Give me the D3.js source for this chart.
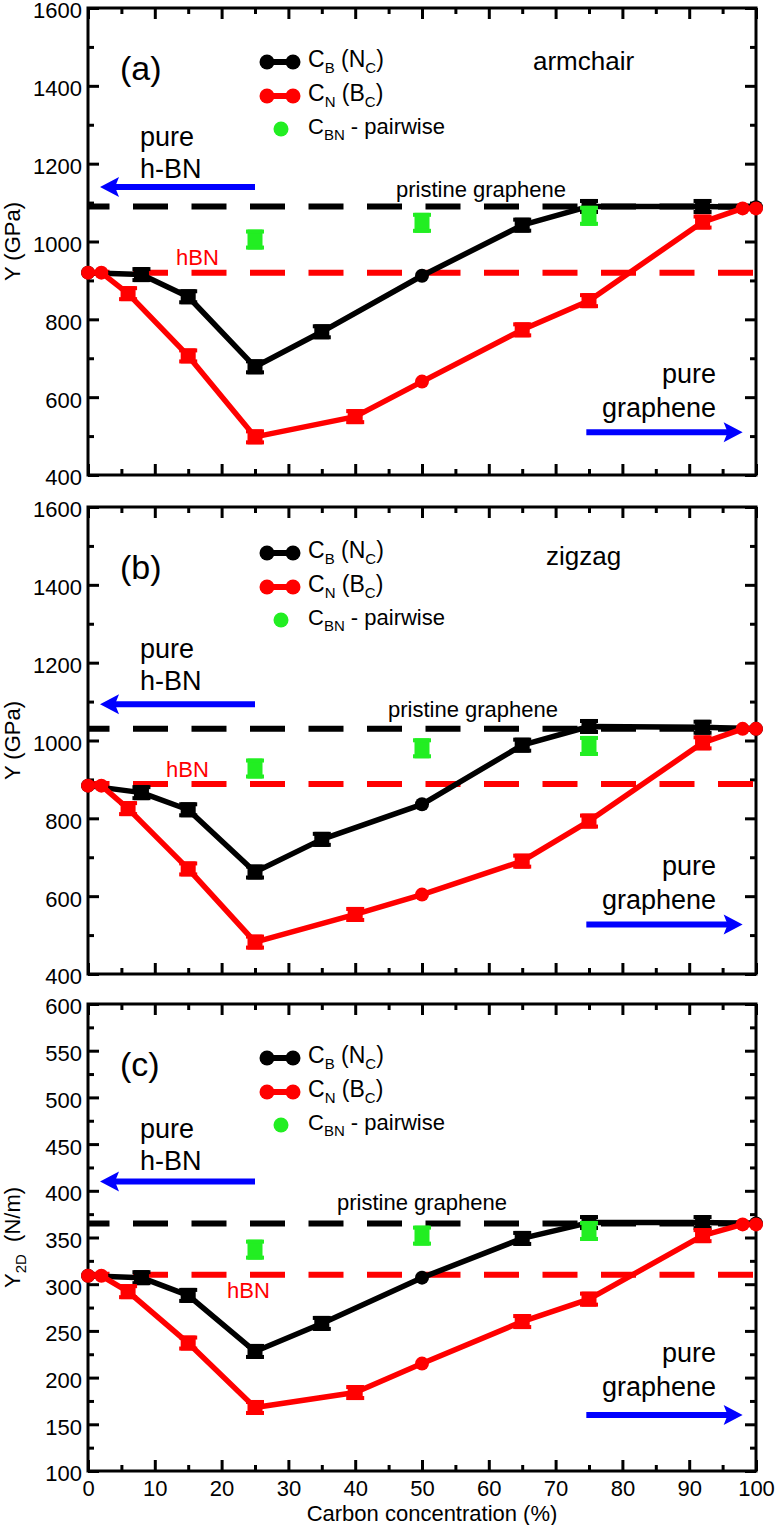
<!DOCTYPE html>
<html lang="en">
<head>
<meta charset="UTF-8">
<title>Young's modulus vs carbon concentration</title>
<script src="https://cdn.jsdelivr.net/npm/d3@7"></script>
<style>
  body { margin: 0; background: #fff; }
  svg { font-family: "Liberation Sans", Arial, Helvetica, sans-serif; }
  .tick line { stroke: #000; stroke-width: 3px; }
  .domain { display: none; }
  .tick text { font-size: 22px; fill: #000; }
</style>
</head>
<body>
<div id="chart"></div>
<script>
// concentration (%) of each computed point
const concB = [0, 8, 15, 25, 35, 50, 65, 75, 92, 100];
const concN = [0, 2, 6, 15, 25, 40, 50, 65, 75, 92, 98, 100];
const concPair = [25, 50, 75];
// marker shape per point: o = circle, s = square with error bar
const markB = ["o", "s", "s", "s", "s", "o", "s", "s", "s", "o"];
const markN = ["o", "o", "s", "s", "s", "s", "o", "s", "s", "s", "o", "o"];

// (a) armchair, Y in GPa
const armchairB = [920, 915, 858, 678, 768, 912, 1042, 1090, 1090, 1088];
const armchairN = [920, 920, 866, 706, 498, 550, 640, 773, 848, 1050, 1085, 1085];
const armchairPair = [1005, 1048, 1066];
// (b) zigzag, Y in GPa
const zigzagB = [884, 866, 822, 662, 746, 836, 988, 1036, 1034, 1030];
const zigzagN = [884, 884, 825, 670, 482, 553, 604, 690, 793, 994, 1030, 1030];
const zigzagPair = [928, 980, 986];
// (c) 2D modulus, N/m
const y2dB = [309, 307, 288, 228, 258, 307, 349, 366, 366, 365];
const y2dN = [309, 309, 292, 237, 168, 184, 215, 260, 284, 352, 364, 364];
const y2dPair = [337, 352, 357];

// reference levels (dashed lines)
const refGraphene = [1090, 1030, 365];
const refHBN = [920, 888, 310];

// axis ticks
const xMajor = d3.range(0, 101, 10);
const xMinor = d3.range(5, 100, 10);
const yMajorGPa = d3.range(400, 1601, 200);
const yMinorGPa = d3.range(500, 1600, 200);
const yMajor2D = d3.range(100, 601, 50);
const yMinor2D = d3.range(125, 600, 50);

const panels = [
  { tag: "(a)", name: "armchair", B: armchairB, N: armchairN, P: armchairPair,
    dom: [400, 1600], major: yMajorGPa, minor: yMinorGPa, top: 8,
    leftArrowY: 1140, rightArrowY: 510, legTop: 54, hbnTop: 138, grTop: 375,
    prist: { x: 566, dy: 189 }, hbn: { x: 176, dy: 257 }, nameX: 533, nameDy: 62 },
  { tag: "(b)", name: "zigzag", B: zigzagB, N: zigzagN, P: zigzagPair,
    dom: [400, 1600], major: yMajorGPa, minor: yMinorGPa, top: 507,
    leftArrowY: 1093, rightArrowY: 527, legTop: 46, hbnTop: 151, grTop: 368,
    prist: { x: 558, dy: 210 }, hbn: { x: 166, dy: 270 }, nameX: 546, nameDy: 58 },
  { tag: "(c)", name: "", B: y2dB, N: y2dN, P: y2dPair,
    dom: [100, 600], major: yMajor2D, minor: yMinor2D, top: 1004,
    leftArrowY: 410, rightArrowY: 160, legTop: 54, hbnTop: 134, grTop: 358,
    prist: { x: 507, dy: 206 }, hbn: { x: 227, dy: 294 }, nameX: 0, nameDy: 0 }
];

const W = 776, H = 1525, L = 88, R = 756, PH = 467;
const RED = "#ff0000", GREEN = "#22ee22", BLUE = "#0000ff";

const svg = d3.select("#chart").append("svg")
  .attr("width", W).attr("height", H);

const x = d3.scaleLinear().domain([0, 100]).range([L, R]);

// square marker with error-bar caps (hourglass look)
function sqMarker(g, cx, cy, color, hh) {
  g.append("rect").attr("x", cx - 7.5).attr("y", cy - hh).attr("width", 15).attr("height", 2 * hh).attr("fill", color);
  g.append("rect").attr("x", cx - 9).attr("y", cy - hh).attr("width", 18).attr("height", 4).attr("fill", color);
  g.append("rect").attr("x", cx - 9).attr("y", cy + hh - 4).attr("width", 18).attr("height", 4).attr("fill", color);
}

function arrow(g, x1, x2, yy) {
  const dir = Math.sign(x2 - x1);
  g.append("line").attr("x1", x1).attr("x2", x2 - dir * 14).attr("y1", yy).attr("y2", yy)
    .attr("stroke", BLUE).attr("stroke-width", 6);
  g.append("path")
    .attr("d", `M${x2},${yy} L${x2 - dir * 19},${yy - 10} L${x2 - dir * 15},${yy} L${x2 - dir * 19},${yy + 10} Z`)
    .attr("fill", BLUE);
}

panels.forEach((p, i) => {
  const top = p.top, bottom = top + PH;
  const y = d3.scaleLinear().domain(p.dom).range([bottom, top]);
  const g = svg.append("g");

  // ticks, all four sides, inward
  const ax = [
    [d3.axisBottom(x).tickValues(xMajor).tickSizeInner(-11), bottom, "h", i === 2],
    [d3.axisBottom(x).tickValues(xMinor).tickSizeInner(-6), bottom, "h", false],
    [d3.axisTop(x).tickValues(xMajor).tickSizeInner(-11), top, "h", false],
    [d3.axisTop(x).tickValues(xMinor).tickSizeInner(-6), top, "h", false],
    [d3.axisLeft(y).tickValues(p.major).tickSizeInner(-11), L, "v", true],
    [d3.axisLeft(y).tickValues(p.minor).tickSizeInner(-6), L, "v", false],
    [d3.axisRight(y).tickValues(p.major).tickSizeInner(-11), R, "v", false],
    [d3.axisRight(y).tickValues(p.minor).tickSizeInner(-6), R, "v", false]
  ];
  ax.forEach(([a, pos, o, lab]) => {
    a.tickSizeOuter(0).tickPadding(o === "h" ? 9 : 6)
      .tickFormat(lab ? d3.format("d") : "");
    const ag = g.append("g")
      .attr("transform", o === "h" ? `translate(0,${pos})` : `translate(${pos},0)`)
      .call(a);
    // labels sit a little below their tick on the y axes
    if (o === "v") ag.selectAll(".tick text").attr("dy", "0.45em");
  });

  g.append("rect").attr("x", L).attr("y", top).attr("width", R - L).attr("height", PH)
    .attr("fill", "none").attr("stroke", "#000").attr("stroke-width", 3);

  // y axis title
  const yt = g.append("text")
    .attr("transform", `translate(20,${(top + bottom) / 2}) rotate(-90)`)
    .attr("text-anchor", "middle").attr("font-size", 22);
  if (i < 2) {
    yt.text("Y (GPa)");
  } else {
    yt.append("tspan").text("Y");
    yt.append("tspan").attr("font-size", 15).attr("dy", 6).text("2D");
    yt.append("tspan").attr("dy", -6).text("\u00a0\u00a0(N/m)");
  }

  // panel tag and name
  g.append("text").attr("x", 120).attr("y", top + 72).attr("font-size", 34).text(p.tag);
  if (p.name) {
    g.append("text").attr("x", p.nameX).attr("y", top + p.nameDy).attr("font-size", 26).text(p.name);
  }

  // reference dashed lines
  [[refGraphene[i], "#000"], [refHBN[i], RED]].forEach(([v, c]) => {
    g.append("line").attr("x1", L).attr("x2", R).attr("y1", y(v)).attr("y2", y(v))
      .attr("stroke", c).attr("stroke-width", 6)
      .attr("stroke-dasharray", "35,23.5").attr("stroke-dashoffset", 13.5);
  });
  g.append("text").attr("x", p.prist.x).attr("y", top + p.prist.dy)
    .attr("text-anchor", "end").attr("font-size", 22).text("pristine graphene");
  g.append("text").attr("x", p.hbn.x).attr("y", top + p.hbn.dy)
    .attr("font-size", 22).attr("fill", RED).text("hBN");

  // pure h-BN / pure graphene annotations
  g.append("text").attr("x", 140).attr("y", top + p.hbnTop).attr("font-size", 27).text("pure");
  g.append("text").attr("x", 140).attr("y", top + p.hbnTop + 32).attr("font-size", 27).text("h-BN");
  arrow(g, x(25), x(1.8), y(p.leftArrowY));
  g.append("text").attr("x", 716).attr("y", top + p.grTop).attr("text-anchor", "end").attr("font-size", 27).text("pure");
  g.append("text").attr("x", 716).attr("y", top + p.grTop + 34).attr("text-anchor", "end").attr("font-size", 27).text("graphene");
  arrow(g, x(74.6), x(98), y(p.rightArrowY));

  // series
  const line = d3.line().x(d => x(d[0])).y(d => y(d[1]));
  [[concB, p.B, markB, "#000"], [concN, p.N, markN, RED]].forEach(([cx, vals, mk, col]) => {
    const pts = cx.map((c, k) => [c, vals[k], mk[k]]);
    g.append("path").datum(pts).attr("d", line)
      .attr("fill", "none").attr("stroke", col).attr("stroke-width", 5.5).attr("stroke-linejoin", "round");
    pts.forEach(d => {
      if (d[2] === "o") {
        g.append("circle").attr("cx", x(d[0])).attr("cy", y(d[1])).attr("r", 7).attr("fill", col);
      } else {
        sqMarker(g, x(d[0]), y(d[1]), col, 7.5);
      }
    });
  });
  concPair.forEach((c, k) => sqMarker(g, x(c), y(p.P[k]), GREEN, 10));

  // legend
  const leg = g.append("g").attr("transform", `translate(0,${top + p.legTop})`);
  [["#000", "B", "N", "C"], [RED, "N", "B", "C"]].forEach(([col, s1, m, s2], k) => {
    const ly = k * 34;
    leg.append("line").attr("x1", 267).attr("x2", 293).attr("y1", ly).attr("y2", ly)
      .attr("stroke", col).attr("stroke-width", 6);
    leg.append("circle").attr("cx", 267).attr("cy", ly).attr("r", 7.5).attr("fill", col);
    leg.append("circle").attr("cx", 293).attr("cy", ly).attr("r", 7.5).attr("fill", col);
    const t = leg.append("text").attr("x", 308).attr("y", ly + 5).attr("font-size", 23);
    t.append("tspan").text("C");
    t.append("tspan").attr("font-size", 15).attr("dy", 6).text(s1);
    t.append("tspan").attr("dy", -6).text(" (" + m);
    t.append("tspan").attr("font-size", 15).attr("dy", 6).text(s2);
    t.append("tspan").attr("dy", -6).text(")");
  });
  leg.append("circle").attr("cx", 281).attr("cy", 67).attr("r", 7.5).attr("fill", GREEN);
  const t3 = leg.append("text").attr("x", 308).attr("y", 72).attr("font-size", 22);
  t3.append("tspan").text("C");
  t3.append("tspan").attr("font-size", 15).attr("dy", 6).text("BN");
  t3.append("tspan").attr("dy", -6).text(" - pairwise");
});

svg.append("text").attr("x", 432).attr("y", 1521).attr("text-anchor", "middle")
  .attr("font-size", 22).text("Carbon concentration (%)");
</script>
</body>
</html>
